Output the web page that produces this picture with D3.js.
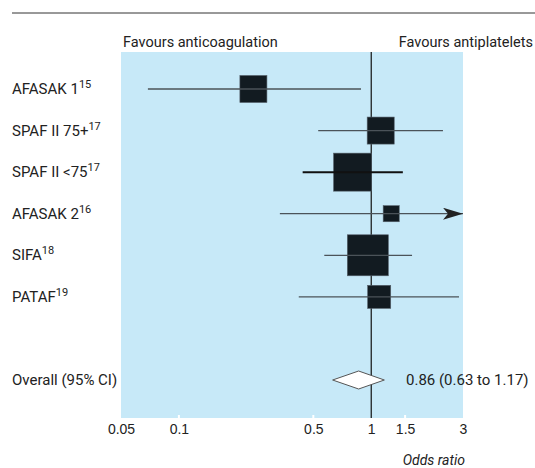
<!DOCTYPE html>
<html>
<head>
<meta charset="utf-8">
<script src="https://cdn.jsdelivr.net/npm/d3@7"></script>
<style>
  body { margin: 0; background: #fff; }
  svg { font-family: Roboto, "Liberation Sans", sans-serif; }
  text { fill: #222; }
</style>
</head>
<body>
<div id="chart"></div>
<script>
// trials, odds ratios, 95% CI and relative weight
const studies = ["AFASAK 1", "SPAF II 75+", "SPAF II <75", "AFASAK 2", "SIFA", "PATAF"];
const refs = ["15", "17", "17", "16", "18", "19"];
const oddsRatio = [0.244, 1.12, 0.80, 1.27, 0.96, 1.10];
const ciLow = [0.069, 0.53, 0.44, 0.335, 0.57, 0.42];
const ciHigh = [0.885, 2.36, 1.46, 4.5, 1.63, 2.86];
const weight = [13.6, 13.6, 26.9, 4.8, 31.3, 9.9];

const overall = {label: "Overall (95% CI)", or: 0.86, lo: 0.63, hi: 1.17};
const tickValues = [0.05, 0.1, 0.5, 1, 1.5, 3];

const width = 535, height = 468;
const margin = {top: 52, right: 72, bottom: 50, left: 121};

const svg = d3.select("#chart")
  .append("svg")
  .attr("width", width)
  .attr("height", height);

const x = d3.scaleLog()
  .domain([0.05, 3])
  .range([margin.left, width - margin.right]);

const rowY = d3.scalePoint()
  .domain(studies.concat(["", overall.label]))
  .range([89, 380]);

const size = d3.scaleSqrt()
  .domain([0, d3.max(weight)])
  .range([0, 41]);

const panelBottom = height - margin.bottom;

// top rule
svg.append("line")
  .attr("x1", 12).attr("x2", width)
  .attr("y1", 13).attr("y2", 13)
  .attr("stroke", "#333").attr("stroke-width", 1);

// blue panel
svg.append("rect")
  .attr("x", margin.left)
  .attr("y", margin.top)
  .attr("width", x.range()[1] - margin.left)
  .attr("height", panelBottom - margin.top)
  .attr("fill", "#c7e9f8");

svg.append("text")
  .attr("x", 123).attr("y", 47)
  .attr("font-size", 14.5)
  .text("Favours anticoagulation");

svg.append("text")
  .attr("x", 533).attr("y", 47)
  .attr("text-anchor", "end")
  .attr("font-size", 14.5)
  .text("Favours antiplatelets");

// axis
const axis = d3.axisBottom(x)
  .tickValues(tickValues)
  .tickFormat(d3.format("~g"))
  .tickSize(0)
  .tickPadding(6);

const gAxis = svg.append("g")
  .attr("transform", "translate(0," + panelBottom + ")")
  .call(axis);
gAxis.select(".domain").remove();
gAxis.selectAll("text")
  .attr("font-size", 14)
  .attr("fill", "#222")
  .attr("font-family", null);

// white inner ticks
svg.selectAll(".wtick")
  .data(tickValues.filter(d => d > 0.05 && d < 3 && d !== 1))
  .enter().append("line")
  .attr("class", "wtick")
  .attr("x1", d => x(d)).attr("x2", d => x(d))
  .attr("y1", panelBottom - 3).attr("y2", panelBottom)
  .attr("stroke", "#fff").attr("stroke-width", 2);

svg.append("text")
  .attr("x", 465).attr("y", 465)
  .attr("text-anchor", "end")
  .attr("font-size", 14)
  .attr("font-style", "italic")
  .text("Odds ratio");

// line of no effect
svg.append("line")
  .attr("x1", x(1)).attr("x2", x(1))
  .attr("y1", margin.top).attr("y2", panelBottom)
  .attr("stroke", "#111").attr("stroke-width", 1.2);

svg.append("defs").append("marker")
  .attr("id", "arrow")
  .attr("viewBox", "0 0 20 12")
  .attr("refX", 20).attr("refY", 6)
  .attr("markerWidth", 20).attr("markerHeight", 12)
  .attr("markerUnits", "userSpaceOnUse")
  .attr("orient", "auto")
  .append("path")
  .attr("d", "M0,0 L20,6 L0,12 L5,6 Z")
  .attr("fill", "#222");

const rows = studies.map((s, i) => ({
  name: s, ref: refs[i], or: oddsRatio[i], lo: ciLow[i], hi: ciHigh[i], w: weight[i]
}));

// squares
svg.selectAll(".sq")
  .data(rows)
  .enter().append("rect")
  .attr("class", "sq")
  .attr("x", d => x(d.or) - size(d.w) / 2)
  .attr("y", d => rowY(d.name) - size(d.w) / 2)
  .attr("width", d => size(d.w))
  .attr("height", d => size(d.w))
  .attr("fill", "#121b21")
  .attr("stroke", "#55606a")
  .attr("stroke-width", 0.6);

// confidence intervals
svg.selectAll(".ci")
  .data(rows)
  .enter().append("line")
  .attr("class", "ci")
  .attr("x1", d => x(d.lo))
  .attr("x2", d => x(Math.min(d.hi, 3)))
  .attr("y1", d => rowY(d.name))
  .attr("y2", d => rowY(d.name))
  .attr("stroke", d => d.w > 20 && d.w < 30 ? "#111" : "#4b5359")
  .attr("stroke-width", d => d.w > 20 && d.w < 30 ? 2 : 1.3)
  .attr("marker-end", d => d.hi > 3 ? "url(#arrow)" : null);

// labels with superscript references
const lab = svg.selectAll(".lab")
  .data(rows)
  .enter().append("text")
  .attr("class", "lab")
  .attr("x", 12)
  .attr("y", d => rowY(d.name) + 5)
  .attr("font-size", 15);
lab.append("tspan").text(d => d.name);
lab.append("tspan")
  .attr("font-size", 11)
  .attr("dy", -6)
  .text(d => d.ref);

// overall diamond
const oy = rowY(overall.label);
svg.append("path")
  .attr("d", d3.line()([
    [x(overall.lo), oy], [x(overall.or), oy - 9],
    [x(overall.hi), oy], [x(overall.or), oy + 9]
  ]) + "Z")
  .attr("fill", "#fff")
  .attr("stroke", "#555")
  .attr("stroke-width", 1);

svg.append("text")
  .attr("x", 12).attr("y", oy + 5)
  .attr("font-size", 15)
  .text(overall.label);

svg.append("text")
  .attr("x", 406).attr("y", oy + 5)
  .attr("font-size", 15)
  .text(d3.format(".2f")(overall.or) + " (" + d3.format(".2f")(overall.lo) +
        " to " + d3.format(".2f")(overall.hi) + ")");
</script>
</body>
</html>
